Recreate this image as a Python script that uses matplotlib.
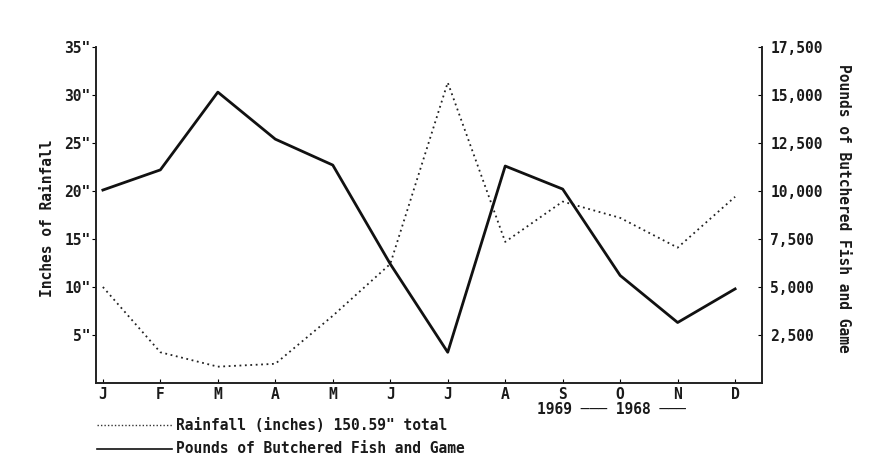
import matplotlib.pyplot as plt

# monthly values
months = ["J", "F", "M", "A", "M", "J", "J", "A", "S", "O", "N", "D"]
rainfall = [10.0, 3.2, 1.7, 2.0, 7.0, 12.4, 31.3, 14.7, 18.9, 17.2, 14.1, 19.4]
pounds = [10050, 11100, 15150, 12700, 11350, 6200, 1600, 11300, 10100, 5600, 3150, 4900]

rain_ticks = [5, 10, 15, 20, 25, 30, 35]
pound_ticks = [2500, 5000, 7500, 10000, 12500, 15000, 17500]

FONT = "DejaVu Sans Mono"
plt.rcParams["font.family"] = FONT
FS = 10.5
INK = "#1a1a1a"

fig = plt.figure(figsize=(8.75, 4.59), dpi=100)
ax = fig.add_axes([0.1097, 0.1656, 0.7613, 0.732])
ax2 = ax.twinx()

x = list(range(len(months)))
ax.plot(x, rainfall, color="#222222", lw=1.3, linestyle=(0, (1, 2)))
ax2.plot(x, pounds, color="#111111", lw=2.0)

ax.set_xlim(-0.12, 11.47)
ax.set_ylim(0, 35)
ax2.set_ylim(0, 17500)

ax.spines["top"].set_visible(False)
ax2.spines["top"].set_visible(False)
for a in (ax, ax2):
    for s in ("left", "right", "bottom"):
        a.spines[s].set_linewidth(1.2)
        a.spines[s].set_color("#222222")

ax.set_xticks(x)
ax.set_xticklabels(months, fontsize=FS, fontweight="bold", color=INK)
ax.tick_params(axis="x", direction="in", length=3, pad=3)

ax.set_yticks(rain_ticks)
ax.set_yticklabels([f'{v}"' for v in rain_ticks], fontsize=FS, fontweight="bold", color=INK)
ax.tick_params(axis="y", direction="out", length=3, pad=1)

ax2.set_yticks(pound_ticks)
ax2.set_yticklabels([f"{v:,}" for v in pound_ticks], fontsize=FS, fontweight="bold", color=INK)
ax2.tick_params(axis="y", direction="in", length=3, pad=6)

fig.text(0.054, 0.525, "Inches of Rainfall", rotation=90, ha="center", va="center",
         fontsize=FS, fontweight="bold", color=INK)
fig.text(0.964, 0.545, "Pounds of Butchered Fish and Game", rotation=-90,
         ha="center", va="center", fontsize=FS, fontweight="bold", color=INK)

fig.text(0.614, 0.107, "1969 \u2500\u2500\u2500 1968 \u2500\u2500\u2500", fontsize=FS,
         fontweight="bold", va="center", color=INK)

# legend drawn by hand below the axes
fig.add_artist(plt.Line2D([0.111, 0.197], [0.074, 0.074], color="#333333", lw=1.0,
                          linestyle=(0, (1, 1.5))))
fig.text(0.201, 0.074, 'Rainfall (inches) 150.59" total', fontsize=FS, fontweight="bold",
         va="center", color=INK)
fig.add_artist(plt.Line2D([0.111, 0.197], [0.022, 0.022], color="#111111", lw=1.2))
fig.text(0.201, 0.022, "Pounds of Butchered Fish and Game", fontsize=FS, fontweight="bold",
         va="center", color=INK)

fig.savefig("out.png", dpi=100)
